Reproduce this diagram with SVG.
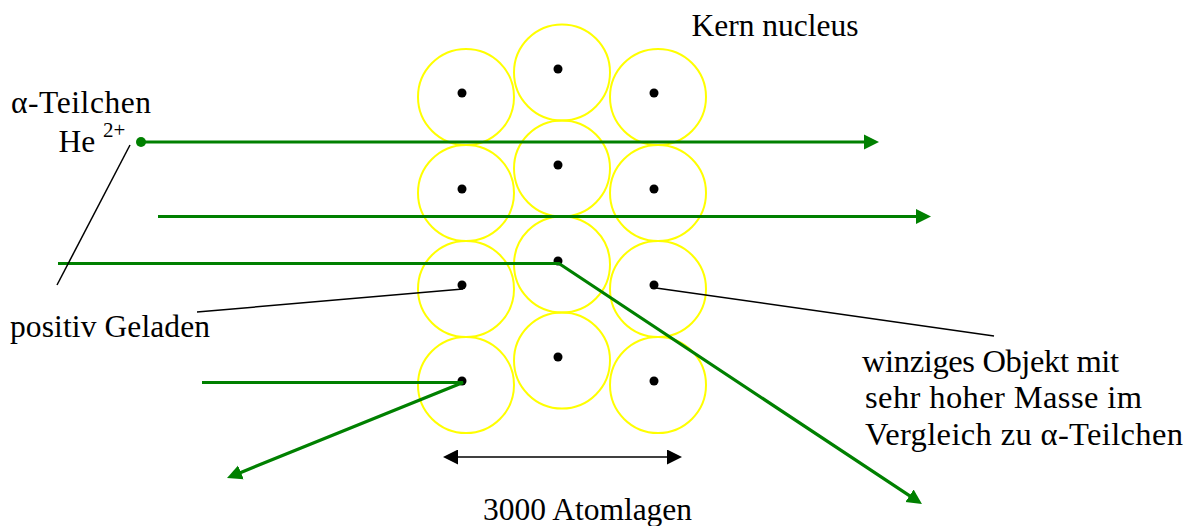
<svg xmlns="http://www.w3.org/2000/svg" width="1189" height="526" viewBox="0 0 1189 526">
<style>
.atom{fill:none;stroke:#FFFF00;stroke-width:2}
.nuc{fill:#000}
.ray{fill:none;stroke:#008000;stroke-width:3.2}
.lead{fill:none;stroke:#000;stroke-width:1.5}
.t{font-family:"Liberation Serif","Times New Roman",serif;font-size:31.5px;fill:#000}
.r{font-size:32.5px}
.sup{font-size:21px}
</style>
<defs>
<marker id="ga" markerUnits="userSpaceOnUse" markerWidth="15" markerHeight="16" refX="4" refY="8" orient="auto"><path d="M0,0.5 L15,8 L0,15.5 z" fill="#008000"/></marker>
<marker id="ka" markerUnits="userSpaceOnUse" markerWidth="15" markerHeight="15" refX="4" refY="7.5" orient="auto-start-reverse"><path d="M0,0 L15,7.5 L0,15 z" fill="#000"/></marker>
</defs>
<rect width="1189" height="526" fill="#fff"/>
<g id="atoms">
<g id="atom-l1"><circle class="atom" cx="466" cy="97" r="48"/><circle class="nuc" cx="462" cy="93" r="4.5"/></g>
<g id="atom-l2"><circle class="atom" cx="466" cy="193" r="48"/><circle class="nuc" cx="462" cy="189" r="4.5"/></g>
<g id="atom-l3"><circle class="atom" cx="466" cy="289" r="48"/><circle class="nuc" cx="462" cy="285" r="4.5"/></g>
<g id="atom-l4"><circle class="atom" cx="466" cy="385" r="48"/><circle class="nuc" cx="462" cy="381" r="4.5"/></g>
<g id="atom-m1"><circle class="atom" cx="562" cy="72.5" r="48"/><circle class="nuc" cx="558" cy="69" r="4.5"/></g>
<g id="atom-m2"><circle class="atom" cx="562" cy="168.5" r="48"/><circle class="nuc" cx="558" cy="165" r="4.5"/></g>
<g id="atom-m3"><circle class="atom" cx="562" cy="264.5" r="48"/><circle class="nuc" cx="558" cy="261" r="4.5"/></g>
<g id="atom-m4"><circle class="atom" cx="562" cy="360.5" r="48"/><circle class="nuc" cx="558" cy="357" r="4.5"/></g>
<g id="atom-r1"><circle class="atom" cx="658" cy="97" r="48"/><circle class="nuc" cx="654" cy="93" r="4.5"/></g>
<g id="atom-r2"><circle class="atom" cx="658" cy="193" r="48"/><circle class="nuc" cx="654" cy="189" r="4.5"/></g>
<g id="atom-r3"><circle class="atom" cx="658" cy="289" r="48"/><circle class="nuc" cx="654" cy="285" r="4.5"/></g>
<g id="atom-r4"><circle class="atom" cx="658" cy="385" r="48"/><circle class="nuc" cx="654" cy="381" r="4.5"/></g>
</g>
<g id="connectors">
<path class="ray" d="M141,142 H868" marker-end="url(#ga)"/>
<circle cx="141" cy="142" r="5" fill="#008000"/>
<path class="ray" d="M158,216.5 H920" marker-end="url(#ga)"/>
<path class="ray" d="M58,263.5 H559 L912.8,497.9" marker-end="url(#ga)"/>
<path class="ray" d="M202,382.5 H463 L237.2,473.9" marker-end="url(#ga)"/>
<path class="lead" d="M130,145 L57,285"/>
<path class="lead" d="M463,289 L197,312"/>
<path class="lead" d="M656,288 L994,336"/>
<path class="lead" d="M454,457 H671" marker-start="url(#ka)" marker-end="url(#ka)"/>
</g>
<g id="labels">
<text class="t" x="691.5" y="36">Kern nucleus</text>
<text class="t" x="11" y="113" textLength="140" lengthAdjust="spacing">α-Teilchen</text>
<text class="t" x="58.5" y="151.5">He</text>
<text class="t sup" x="103" y="137">2+</text>
<text class="t" x="10" y="336.5" textLength="200" lengthAdjust="spacing">positiv Geladen</text>
<text class="t r" x="862" y="371.5" textLength="257" lengthAdjust="spacing">winziges Objekt mit</text>
<text class="t r" x="865" y="408" textLength="277" lengthAdjust="spacing">sehr hoher Masse im</text>
<text class="t r" x="865" y="445" textLength="318" lengthAdjust="spacing">Vergleich zu α-Teilchen</text>
<text class="t" x="483" y="520">3000 Atomlagen</text>
</g>
</svg>
